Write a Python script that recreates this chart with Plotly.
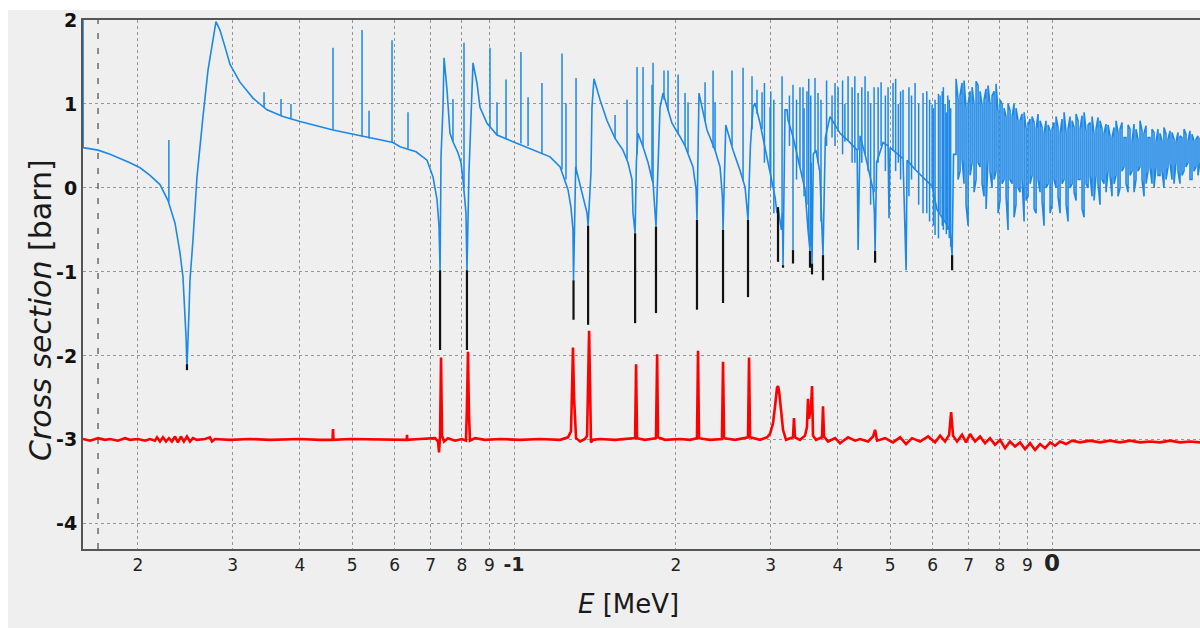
import math
import plotly.graph_objects as go

# ---------------- axis ticks ----------------
x_tick_vals = [0.02, 0.03, 0.04, 0.05, 0.06, 0.07, 0.08, 0.09, 0.1,
               0.2, 0.3, 0.4, 0.5, 0.6, 0.7, 0.8, 0.9, 1.0]
x_tick_text = ['2', '3', '4', '5', '6', '7', '8', '9',
               '<span style="font-size:19px"><b>-1</b></span>',
               '2', '3', '4', '5', '6', '7', '8', '9',
               '<span style="font-size:23px"><b>0</b></span>']
y_tick_vals = [-4, -3, -2, -1, 0, 1, 2]
x_range_E = [0.01581, 1.8834]
y_range = [-4.30, 2.0]
marker_E = 0.01686   # dashed vertical marker

# ---------------- blue (calculated) curve: backbone ----------------
blue_E = [0.01581, 0.01582, 0.01686, 0.01775, 0.01933, 0.02018, 0.02106, 0.02198, 0.02275, 0.02344,
          0.02394, 0.02425, 0.02457, 0.02467, 0.02488, 0.02499, 0.02531, 0.02575, 0.02642, 0.02699,
          0.02793, 0.02841, 0.02903, 0.02966, 0.03095, 0.03176, 0.03272, 0.03415, 0.03474, 0.03720,
          0.04002, 0.04609, 0.05174, 0.05958, 0.06140, 0.06575, 0.06891, 0.07071, 0.07193, 0.07255,
          0.07287, 0.07317, 0.07379, 0.07412, 0.07507, 0.07603, 0.07701, 0.07868, 0.07970, 0.08038,
          0.08142, 0.08176, 0.08247, 0.08318, 0.08390, 0.08534, 0.08645, 0.08908, 0.09298, 0.09957,
          0.1085, 0.1167, 0.1218, 0.1260, 0.1276, 0.1287, 0.1290, 0.1302, 0.1338, 0.1367,
          0.1373, 0.1390, 0.1396, 0.1408, 0.1445, 0.1489, 0.1541, 0.1594, 0.1629, 0.1657,
          0.1664, 0.1679, 0.1688, 0.1700, 0.1737, 0.1775, 0.1805, 0.1813, 0.1836, 0.1868,
          0.1892, 0.1924, 0.1966, 0.2035, 0.2079, 0.2151, 0.2180, 0.2188, 0.2207, 0.2236,
          0.2284, 0.2364, 0.2415, 0.2440, 0.2446, 0.2475, 0.2510, 0.2553, 0.2630, 0.2688,
          0.2722, 0.2750, 0.2781, 0.2805, 0.2866, 0.2953, 0.3017, 0.3056, 0.3082, 0.3095,
          0.3140, 0.3155, 0.3162, 0.3175, 0.3189, 0.3217, 0.3230, 0.3300, 0.3400, 0.3474,
          0.3519, 0.3549, 0.3565, 0.3580, 0.3600, 0.3640, 0.3700, 0.3730, 0.3752, 0.3790,
          0.3867, 0.4036, 0.4213, 0.4342, 0.4360, 0.4397, 0.4492, 0.4649, 0.4675, 0.4689,
          0.4720, 0.4852, 0.4957, 0.4977, 0.5000, 0.5063, 0.5284, 0.5354, 0.5377, 0.5564,
          0.5757, 0.5984, 0.6113, 0.6464, 0.6520, 0.6560]
blue_xs = [2.10, 0.48, 0.45, 0.40, 0.30, 0.24, 0.15, 0.04, -0.15, -0.42,
           -0.77, -1.06, -1.77, -2.14, -1.49, -1.10, -0.62, 0.13, 0.85, 1.40,
           1.98, 1.88, 1.68, 1.47, 1.26, 1.17, 1.07, 0.97, 0.93, 0.85,
           0.79, 0.69, 0.62, 0.54, 0.49, 0.43, 0.33, 0.13, -0.14, -0.46,
           -0.98, 0.37, 0.96, 1.55, 1.17, 0.65, 0.55, 0.42, 0.30, 0.10,
           -0.30, -0.98, 0.18, 0.96, 1.49, 1.25, 0.96, 0.77, 0.63, 0.55,
           0.45, 0.37, 0.25, -0.02, -0.23, -0.50, -1.10, 0.25, -0.06, -0.30,
           -0.45, 0.18, 0.96, 1.30, 1.05, 0.80, 0.59, 0.45, 0.30, 0.10,
           -0.30, -0.54, 0.30, 0.65, 0.49, 0.30, 0.10, 0.06, -0.46, 0.96,
           1.13, 0.96, 0.77, 0.61, 0.50, 0.25, -0.02, -0.38, 1.13, 0.96,
           0.69, 0.45, 0.25, -0.11, -0.50, 0.75, 0.60, 0.45, 0.21, 0.01,
           -0.38, 0.50, 0.96, 1.01, 0.77, 0.37, 0.06, -0.11, -0.30, -0.23,
           -0.50, -0.30, -0.92, 0.50, 0.93, 0.93, 0.81, 0.61, 0.25, -0.02,
           -0.50, -0.75, 0.30, -0.90, 0.40, 0.45, 0.20, -0.30, -0.80, 0.60,
           0.85, 0.65, 0.54, 0.45, -0.74, 0.62, 0.40, -0.02, -0.30, -0.75,
           0.30, 0.54, 0.50, -0.36, 0.48, 0.45, 0.35, -0.98, 0.33, 0.22,
           0.13, 0.02, -0.26, -0.50, -0.80, 0.40]

# ---------------- blue curve: dense unresolved region, two interleaved sample sets ----------------
dense_E = [0.6631, 0.6745, 0.6861, 0.6981, 0.7101, 0.7224, 0.7349, 0.7475, 0.7603, 0.7736,
           0.7868, 0.8004, 0.8143, 0.8283, 0.8427, 0.8571, 0.8719, 0.8872, 0.9024, 0.9180,
           0.9339, 0.9499, 0.9663, 0.9831, 1.0000, 1.0172, 1.0349, 1.0527, 1.0708, 1.0894,
           1.1082, 1.1273, 1.1468, 1.1666, 1.1867, 1.2071, 1.2279, 1.2491, 1.2707, 1.2926,
           1.3150, 1.3376, 1.3607, 1.3842, 1.4081, 1.4323, 1.4571, 1.4822, 1.5078, 1.5338,
           1.5602, 1.5871, 1.6145, 1.6424, 1.6707, 1.6996, 1.7289, 1.7588, 1.7891, 1.8200,
           1.8514, 1.8834]
dense_hi = [1.30, 1.10, 1.28, 1.00, 1.20, 1.27, 1.15, 1.05, 1.22, 1.10,
            1.24, 1.05, 0.95, 1.00, 0.85, 0.95, 0.80, 0.90, 0.75, 0.85,
            0.70, 0.80, 0.65, 0.75, 0.70, 0.85, 0.65, 0.90, 0.70, 0.80,
            0.88, 0.70, 0.90, 0.75, 0.85, 0.70, 0.80, 0.65, 0.75, 0.60,
            0.80, 0.70, 0.60, 0.75, 0.55, 0.70, 0.80, 0.65, 0.60, 0.70,
            0.55, 0.65, 0.72, 0.58, 0.66, 0.55, 0.62, 0.70, 0.56, 0.64,
            0.58, 0.60]
dense_lo = [0.40, 0.20, 0.05, -0.45, 0.30, 0.10, 0.25, -0.10, 0.35, 0.00,
            0.20, -0.15, 0.10, -0.50, 0.05, -0.20, -0.05, -0.40, -0.10, 0.15,
            -0.30, -0.05, -0.45, 0.05, -0.20, 0.00, -0.30, 0.10, -0.40, 0.05,
            -0.15, 0.10, -0.35, 0.00, -0.10, 0.15, -0.20, 0.05, 0.20, -0.10,
            0.15, 0.00, 0.25, -0.05, 0.20, 0.10, 0.25, -0.10, 0.20, 0.05,
            0.25, 0.15, 0.00, 0.25, 0.10, 0.30, 0.05, 0.20, 0.30, 0.10,
            0.25, 0.30]
dense2_E = [0.6688, 0.6803, 0.6920, 0.7041, 0.7162, 0.7286, 0.7412, 0.7539, 0.7668, 0.7803,
            0.7936, 0.8073, 0.8213, 0.8354, 0.8499, 0.8645, 0.8794, 0.8948, 0.9102, 0.9259,
            0.9419, 0.9581, 0.9746, 0.9916, 1.0086, 1.0259, 1.0438, 1.0618, 1.0800, 1.0988,
            1.1177, 1.1370, 1.1567, 1.1766, 1.1969, 1.2175, 1.2385, 1.2598, 1.2816, 1.3037,
            1.3263, 1.3491, 1.3724, 1.3961, 1.4202, 1.4446, 1.4696, 1.4949, 1.5208, 1.5470,
            1.5736, 1.6007, 1.6284, 1.6565, 1.6851, 1.7142, 1.7438, 1.7739, 1.8045, 1.8357,
            1.8673]
dense2_hi = [1.05, 1.25, 0.95, 1.15, 1.00, 1.22, 0.98, 1.18, 1.00, 1.15,
             0.90, 1.00, 0.85, 0.92, 1.00, 0.80, 0.88, 0.70, 0.82, 0.78,
             0.88, 0.72, 0.80, 0.68, 0.78, 0.72, 0.82, 0.66, 0.85, 0.72,
             0.80, 0.86, 0.68, 0.78, 0.64, 0.84, 0.70, 0.76, 0.62, 0.72,
             0.66, 0.78, 0.60, 0.70, 0.76, 0.58, 0.68, 0.74, 0.60, 0.66,
             0.70, 0.56, 0.64, 0.68, 0.58, 0.66, 0.60, 0.64, 0.68, 0.56,
             0.62]
dense2_lo = [0.10, 0.35, -0.20, 0.15, -0.05, 0.30, 0.05, -0.25, 0.20, 0.10,
             -0.30, 0.05, -0.10, 0.10, -0.35, 0.00, 0.10, -0.15, 0.05, -0.25,
             0.10, -0.15, 0.00, -0.30, 0.10, -0.10, 0.05, -0.20, 0.00, -0.05,
             0.10, -0.25, 0.05, 0.15, -0.15, 0.05, 0.10, -0.05, 0.15, 0.05,
             -0.10, 0.20, 0.05, 0.15, -0.05, 0.20, 0.10, 0.05, 0.25, 0.00,
             0.15, 0.20, 0.10, 0.30, 0.05, 0.20, 0.15, 0.25, 0.10, 0.20,
             0.15]

# ---------------- blue curve: narrow resonance spikes (energy, low, high) ----------------
spike_E = [0.02283, 0.03431, 0.03689, 0.03850, 0.04609, 0.05218, 0.05377, 0.05933, 0.06353, 0.07701,
           0.08073, 0.09023, 0.09298, 0.09663, 0.1030, 0.1062, 0.1127, 0.1228, 0.1249, 0.1304,
           0.1541, 0.1622, 0.1693, 0.1737, 0.1805, 0.1813, 0.1900, 0.1933, 0.2018, 0.2079,
           0.2106, 0.2265, 0.2344, 0.2364, 0.2542, 0.2665, 0.2769, 0.2829, 0.2891, 0.2920,
           0.2991, 0.3000, 0.3040, 0.3149, 0.3250, 0.3300, 0.3350, 0.3400, 0.3444, 0.3460,
           0.3503, 0.3530, 0.3560, 0.3626, 0.3673, 0.3720, 0.3810, 0.3900, 0.3950, 0.4002,
           0.4080, 0.4120, 0.4177, 0.4250, 0.4300, 0.4360, 0.4430, 0.4492, 0.4550, 0.4600,
           0.4669, 0.4750, 0.4811, 0.4900, 0.4957, 0.5063, 0.5120, 0.5180, 0.5230, 0.5284,
           0.5420, 0.5480, 0.5564, 0.5650, 0.5757, 0.5850, 0.5920, 0.5984, 0.6020, 0.6061,
           0.6150, 0.6193, 0.6250, 0.6280, 0.6326, 0.6360, 0.6400, 0.6440, 0.6480]
spike_lo = [-0.17, 0.96, 0.86, 0.82, 0.69, 0.61, 0.59, 0.54, 0.47, 0.55,
            0.00, 0.72, 0.63, 0.58, 0.53, 0.50, 0.40, 0.22, 0.10, 0.20,
            0.59, 0.34, 0.40, 0.49, 0.10, 0.06, 1.05, 0.92, 0.64, 0.50,
            0.42, 0.80, 0.48, 0.45, 0.50, 0.08, 0.70, 0.88, 0.70, 0.30,
            0.20, 0.00, -0.30, -0.40, 0.50, -0.74, 0.10, 0.25, 0.12, -0.10,
            -0.20, -0.60, -0.70, 0.42, 0.30, -0.40, 0.50, 0.60, 0.50, 0.67,
            0.40, 0.55, 0.57, 0.30, 0.30, 0.45, 0.30, 0.40, 0.20, -0.20,
            -0.05, 0.30, 0.50, 0.20, 0.50, 0.45, 0.20, 0.30, 0.10, 0.35,
            -0.10, 0.10, 0.22, -0.20, -0.30, -0.30, -0.40, 0.02, -0.45, -0.56,
            -0.60, -0.30, -0.45, -0.50, -0.40, -0.55, -0.50, -0.60, -0.70]
spike_hi = [0.57, 1.14, 1.06, 1.00, 1.67, 1.88, 0.92, 1.76, 0.90, 1.06,
            1.73, 1.67, 1.02, 1.29, 1.62, 1.08, 1.25, 1.60, 1.01, 1.31,
            0.87, 1.05, 1.44, 1.44, 1.23, 1.49, 1.40, 1.40, 1.35, 1.13,
            1.02, 1.26, 1.40, 1.02, 1.40, 1.43, 1.33, 1.17, 1.14, 1.25,
            0.96, 1.15, 1.05, 1.33, 1.10, 1.23, 1.05, 1.20, 1.20, 0.95,
            1.15, 1.30, 1.10, 1.31, 1.13, 1.05, 1.28, 1.10, 1.25, 1.20,
            1.28, 1.00, 1.33, 1.20, 1.33, 1.13, 1.20, 1.33, 1.15, 1.00,
            1.20, 1.20, 1.26, 1.10, 1.20, 1.25, 1.30, 1.00, 1.15, 1.17,
            1.20, 1.10, 1.25, 1.00, 1.13, 1.15, 1.05, 0.99, 0.95, 1.05,
            1.12, 1.10, 1.15, 1.20, 1.00, 0.90, 1.10, 1.05, 0.95]

# ---------------- black (reference) curve: parts reaching below the blue minima ----------------
dip_E = [0.02467, 0.07287, 0.08176, 0.1290, 0.1373, 0.1679, 0.1836, 0.2188, 0.2446, 0.2722,
         0.3095, 0.3162, 0.3300, 0.3549, 0.3580, 0.3752, 0.4689, 0.6520]
dip_top = [-2.10, -0.98, -0.98, -1.10, -0.45, -0.54, -0.46, -0.38, -0.50, -0.38,
           -0.23, -0.92, -0.74, -0.75, -0.90, -0.80, -0.75, -0.80]
dip_bottom = [-2.17, -1.93, -1.93, -1.57, -1.63, -1.61, -1.49, -1.45, -1.37, -1.30,
              -0.88, -0.95, -0.90, -0.95, -1.03, -1.10, -0.89, -0.98]

# ---------------- red (difference, offset) curve ----------------
red_E = [0.01581, 0.01629, 0.01686, 0.01737, 0.01775, 0.01836, 0.01892, 0.01933, 0.02001, 0.02062,
         0.02106, 0.02151, 0.02170, 0.02198, 0.02226, 0.02255, 0.02284, 0.02313, 0.02344, 0.02373,
         0.02404, 0.02435, 0.02467, 0.02499, 0.02531, 0.02575, 0.02665, 0.02722, 0.02746, 0.02781,
         0.02966, 0.03230, 0.03519, 0.04002, 0.04360, 0.04600, 0.04609, 0.04618, 0.04957, 0.05636,
         0.06320, 0.06326, 0.06332, 0.06687, 0.07132, 0.07224, 0.07255, 0.07287, 0.07317, 0.07349,
         0.07412, 0.07539, 0.07768, 0.08004, 0.08142, 0.08176, 0.08212, 0.08247, 0.08283, 0.08464,
         0.08833, 0.09419, 0.1026, 0.1118, 0.1218, 0.1260, 0.1276, 0.1282, 0.1287, 0.1293,
         0.1304, 0.1327, 0.1355, 0.1367, 0.1373, 0.1379, 0.1385, 0.1390, 0.1402, 0.1445,
         0.1541, 0.1643, 0.1679, 0.1686, 0.1693, 0.1752, 0.1805, 0.1836, 0.1845, 0.1852,
         0.1909, 0.2035, 0.2124, 0.2188, 0.2198, 0.2207, 0.2313, 0.2435, 0.2446, 0.2457,
         0.2575, 0.2722, 0.2734, 0.2746, 0.2866, 0.2953, 0.2991, 0.3030, 0.3056, 0.3082,
         0.3095, 0.3109, 0.3136, 0.3162, 0.3203, 0.3258, 0.3300, 0.3314, 0.3328, 0.3400,
         0.3474, 0.3503, 0.3519, 0.3534, 0.3565, 0.3580, 0.3595, 0.3642, 0.3736, 0.3752,
         0.3769, 0.3834, 0.3951, 0.4036, 0.4177, 0.4304, 0.4397, 0.4550, 0.4649, 0.4689,
         0.4729, 0.4893, 0.5063, 0.5218, 0.5354, 0.5493, 0.5684, 0.5882, 0.6061, 0.6193,
         0.6326, 0.6437, 0.6492, 0.6546, 0.6659, 0.6803, 0.6920, 0.7041, 0.7193, 0.7347,
         0.7507, 0.7668, 0.7835, 0.8004, 0.8176, 0.8354, 0.8534, 0.8719, 0.8908, 0.9101,
         0.9298, 0.9499, 0.9705, 0.9915, 1.0129, 1.0349, 1.0617, 1.0894, 1.1273, 1.1766,
         1.2279, 1.2818, 1.3376, 1.3964, 1.4571, 1.5210, 1.5871, 1.6568, 1.7289, 1.8048,
         1.8834]
red_xs = [-2.99, -3.01, -2.98, -3.00, -2.99, -3.01, -2.98, -3.00, -2.99, -3.01,
          -2.99, -3.01, -2.97, -3.02, -2.97, -3.02, -2.98, -3.02, -2.96, -3.03,
          -2.96, -3.02, -2.96, -3.02, -2.98, -3.00, -2.99, -2.97, -3.02, -2.99,
          -3.00, -2.99, -3.00, -2.99, -3.00, -3.00, -2.87, -3.00, -2.99, -3.00,
          -3.00, -2.94, -3.00, -2.99, -2.98, -3.02, -3.15, -2.96, -2.02, -2.95,
          -3.02, -2.98, -3.01, -2.99, -3.01, -2.60, -1.95, -2.70, -3.01, -2.98,
          -3.00, -2.99, -3.00, -2.99, -3.00, -2.97, -2.90, -2.40, -1.90, -2.50,
          -2.98, -3.02, -2.99, -2.95, -2.30, -1.70, -2.40, -3.03, -3.00, -2.99,
          -3.00, -2.99, -2.98, -2.10, -2.98, -3.00, -2.99, -2.98, -1.98, -2.97,
          -3.00, -2.99, -3.00, -2.98, -1.94, -2.98, -3.00, -2.99, -2.07, -2.98,
          -3.00, -2.97, -2.02, -2.97, -3.00, -2.97, -2.93, -2.80, -2.60, -2.38,
          -2.36, -2.42, -2.65, -2.88, -3.00, -2.98, -2.97, -2.74, -2.97, -3.00,
          -2.95, -2.85, -2.51, -2.75, -2.60, -2.36, -2.95, -3.00, -2.97, -2.60,
          -2.96, -3.02, -2.98, -3.04, -2.97, -3.01, -2.99, -3.02, -2.96, -2.88,
          -3.01, -2.98, -3.03, -2.97, -3.05, -2.98, -3.02, -2.96, -3.03, -2.95,
          -3.02, -2.94, -2.67, -2.95, -3.02, -2.94, -3.03, -2.93, -3.02, -2.96,
          -3.04, -2.98, -3.06, -3.00, -3.10, -3.02, -3.08, -3.03, -3.11, -3.04,
          -3.12, -3.05, -3.10, -3.03, -3.07, -3.02, -3.05, -3.01, -3.03, -3.01,
          -3.03, -3.01, -3.03, -3.01, -3.03, -3.02, -3.03, -3.01, -3.03, -3.02,
          -3.03]

# ---------------- build traces ----------------
BLUE = 'rgb(28,136,232)'
line_x = list(blue_E)
line_y = list(blue_xs)
n2 = len(dense2_E)
for i, (e, lo, hi) in enumerate(zip(dense_E, dense_lo, dense_hi)):
    line_x += [e, e]
    line_y += [lo, hi]
    if i < n2:
        line_x += [dense2_E[i], dense2_E[i]]
        line_y += [dense2_hi[i], dense2_lo[i]]

sp_x, sp_y = [], []
for e, lo, hi in zip(spike_E, spike_lo, spike_hi):
    sp_x += [e, e, None]
    sp_y += [lo, hi, None]

dp_x, dp_y = [], []
for e, t, b in zip(dip_E, dip_top, dip_bottom):
    dp_x += [e, e, None]
    dp_y += [t, b, None]

fig = go.Figure()
fig.add_trace(go.Scatter(x=[marker_E, marker_E], y=y_range, mode='lines',
                         line=dict(color='#6a6a6a', width=1.5, dash='6px,9px'),
                         hoverinfo='skip'))
fig.add_trace(go.Scatter(x=red_E, y=red_xs, mode='lines',
                         line=dict(color='#ff0000', width=2.6)))
fig.add_trace(go.Scatter(x=sp_x, y=sp_y, mode='lines',
                         line=dict(color=BLUE, width=1.5)))
fig.add_trace(go.Scatter(x=line_x, y=line_y, mode='lines',
                         line=dict(color=BLUE, width=1.6)))
fig.add_trace(go.Scatter(x=dp_x, y=dp_y, mode='lines',
                         line=dict(color='#111111', width=2.2)))

PW, PH, L, B = 1117, 529, 83, 79
fig.update_layout(
    width=1200, height=628,
    margin=dict(l=L, r=0, t=20, b=B),
    paper_bgcolor='white', plot_bgcolor='#efefef',
    showlegend=False,
    font=dict(family='DejaVu Sans', color='#222'),
    shapes=[dict(type='rect', xref='paper', yref='paper', layer='below',
                 x0=(8 - L) / PW, x1=1.02, y0=-(B + 2) / PH, y1=(549 - 10) / PH,
                 fillcolor='#efefef', line=dict(width=0))],
    xaxis=dict(type='log', range=[math.log10(x_range_E[0]), math.log10(x_range_E[1])],
               tickmode='array', tickvals=x_tick_vals, ticktext=x_tick_text,
               tickfont=dict(family='DejaVu Sans', size=17, color='#222'),
               showgrid=True, gridcolor='#979797', gridwidth=1, griddash='dot',
               showline=True, linecolor='#555', linewidth=2, mirror=True,
               ticks='', zeroline=False),
    yaxis=dict(range=y_range, tickmode='array', tickvals=y_tick_vals,
               ticktext=['<b>%d</b>' % v for v in y_tick_vals],
               tickfont=dict(family='DejaVu Sans', size=19, color='#111'),
               showgrid=True, gridcolor='#979797', gridwidth=1, griddash='dot',
               showline=True, linecolor='#555', linewidth=2,
               ticks='', zeroline=False),
    annotations=[
        dict(text='<i>Cross section</i> [barn]', textangle=-90, showarrow=False,
             xref='paper', yref='paper', x=(40 - L) / PW, y=(549 - 310) / PH,
             xanchor='center', yanchor='middle',
             font=dict(family='DejaVu Sans', size=30, color='#1a1a1a')),
        dict(text='<i>E</i> [MeV]', showarrow=False,
             xref='paper', yref='paper', x=(628 - L) / PW, y=(549 - 604) / PH,
             xanchor='center', yanchor='middle',
             font=dict(family='DejaVu Sans', size=26, color='#1a1a1a')),
    ],
)

fig.write_html('out.html', config={'displayModeBar': False},
               post_script="document.body.style.margin='0';document.body.style.overflow='hidden';")
